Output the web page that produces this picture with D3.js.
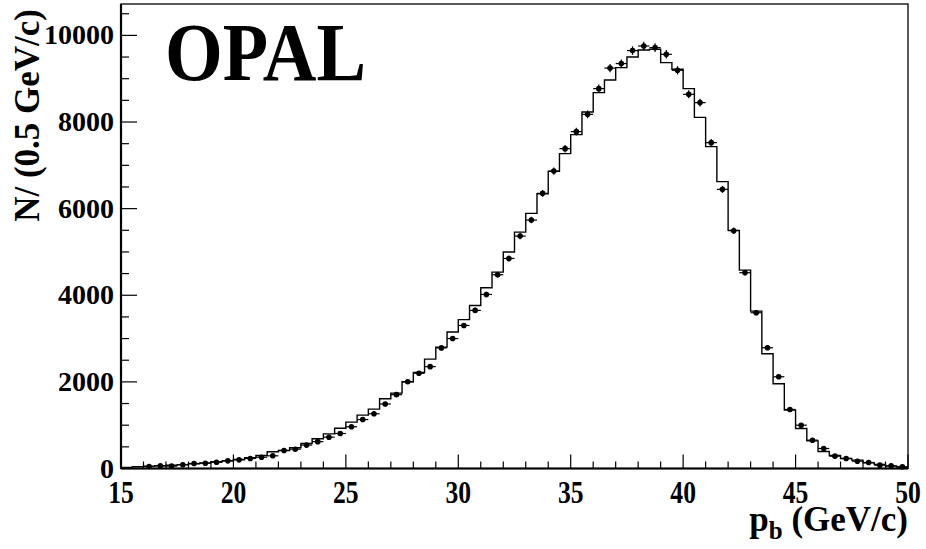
<!DOCTYPE html>
<html>
<head>
<meta charset="utf-8">
<script src="https://cdn.jsdelivr.net/npm/d3@7"></script>
<style>
  html, body { margin: 0; padding: 0; background: #fff; }
  svg { display: block; }
  text { font-family: "Liberation Serif", "DejaVu Serif", serif; font-weight: bold; fill: #000; }
</style>
</head>
<body>
<svg id="chart" width="926" height="549"></svg>
<script>
// ---- data ----
const binEdgesStart = 15;        // GeV/c
const binWidth = 0.5;            // GeV/c
// Monte Carlo histogram contents (70 bins, 15–50 GeV/c)
const mcCounts = [
  25, 40, 55, 65, 75, 90, 110, 130, 155, 180,
  208, 247, 300, 386, 416, 478, 578, 686, 800, 930,
  1070, 1232, 1370, 1610, 1740, 2003, 2218, 2526, 2803, 3153,
  3438, 3765, 4174, 4535, 5000, 5458, 5890, 6345, 6861, 7270,
  7709, 8231, 8679, 8970, 9256, 9501, 9663, 9679, 9372, 9217,
  8771, 8108, 7431, 6623, 5498, 4581, 3634, 2649, 1956, 1347,
  924, 639, 393, 300, 231, 193, 131, 92, 54, 31
];
// Data points (70 bins; first two bins empty)
const dataCounts = [
  0, 0, 45, 62, 55, 85, 115, 122, 145, 177,
  200, 231, 261, 293, 416, 446, 540, 620, 723, 808,
  963, 1130, 1264, 1490, 1705, 2003, 2200, 2352, 2785, 3000,
  3303, 3650, 4019, 4474, 4850, 5366, 5736, 6353, 6868, 7385,
  7778, 8177, 8771, 9245, 9349, 9649, 9755, 9718, 9563, 9194,
  8639, 8448, 7524, 6445, 5491, 4521, 3597, 2788, 2118, 1363,
  1000, 654, 462, 285, 231, 169, 139, 77, 62, 39
];
const xTickLabels = [15, 20, 25, 30, 35, 40, 45, 50];
const yTickLabels = [0, 2000, 4000, 6000, 8000, 10000];

// ---- layout ----
const svg = d3.select("#chart");
const mLeft = 121, mRight = 908, mTop = 4, mBottom = 468.5;
const x = d3.scaleLinear().domain([15, 50]).range([mLeft, mRight]);
const y = d3.scaleLinear().domain([0, 10725]).range([mBottom, mTop]);

// histogram step line
const stepPts = mcCounts.map((v, i) => [binEdgesStart + i * binWidth, v]);
stepPts.push([binEdgesStart + mcCounts.length * binWidth, mcCounts[mcCounts.length - 1]]);
const line = d3.line().x(d => x(d[0])).y(d => y(d[1])).curve(d3.curveStepAfter);
svg.append("path").attr("d", line(stepPts))
  .attr("fill", "none").attr("stroke", "#000").attr("stroke-width", 1.4);

// data points with error bars
const pts = dataCounts
  .map((v, i) => ({ lo: binEdgesStart + i * binWidth, hi: binEdgesStart + (i + 1) * binWidth, v }))
  .filter(d => d.v > 0);
const g = svg.append("g");
g.selectAll("line.h").data(pts).join("line").attr("class", "h")
  .attr("x1", d => x(d.lo)).attr("x2", d => x(d.hi))
  .attr("y1", d => y(d.v)).attr("y2", d => y(d.v))
  .attr("stroke", "#000").attr("stroke-width", 1.2);
g.selectAll("line.v").data(pts).join("line").attr("class", "v")
  .attr("x1", d => x((d.lo + d.hi) / 2)).attr("x2", d => x((d.lo + d.hi) / 2))
  .attr("y1", d => y(d.v + Math.sqrt(d.v))).attr("y2", d => y(Math.max(0, d.v - Math.sqrt(d.v))))
  .attr("stroke", "#000").attr("stroke-width", 1.2);
g.selectAll("circle").data(pts).join("circle")
  .attr("cx", d => x((d.lo + d.hi) / 2)).attr("cy", d => y(d.v))
  .attr("r", 2.8).attr("fill", "#000");

// frame
svg.append("rect").attr("x", mLeft).attr("y", mTop).attr("width", mRight - mLeft).attr("height", mBottom - mTop)
  .attr("fill", "none").attr("stroke", "#000").attr("stroke-width", 1.3);
svg.append("line").attr("x1", mLeft).attr("x2", mLeft).attr("y1", mTop).attr("y2", mBottom)
  .attr("stroke", "#000").attr("stroke-width", 2.2);
svg.append("line").attr("x1", mLeft).attr("x2", mRight).attr("y1", mBottom).attr("y2", mBottom)
  .attr("stroke", "#000").attr("stroke-width", 2.2);

// y ticks
const yMinor = d3.range(0, 10725, 500);
svg.append("g").selectAll("line").data(yMinor).join("line")
  .attr("x1", mLeft).attr("x2", d => mLeft + (d % 2000 === 0 ? 16 : 8))
  .attr("y1", d => y(d)).attr("y2", d => y(d))
  .attr("stroke", "#000").attr("stroke-width", 1.2);
svg.append("g").selectAll("text").data(yTickLabels).join("text")
  .attr("x", 114).attr("y", d => y(d) + 9)
  .attr("text-anchor", "end").attr("font-size", 28)
  .text(d => d);

// x ticks
const xMinor = d3.range(15, 50.01, 1);
svg.append("g").selectAll("line").data(xMinor).join("line")
  .attr("x1", d => x(d)).attr("x2", d => x(d))
  .attr("y1", mBottom).attr("y2", d => mBottom - (d % 5 === 0 ? 14 : 7))
  .attr("stroke", "#000").attr("stroke-width", 1.2);
svg.append("g").selectAll("text").data(xTickLabels).join("text")
  .attr("transform", d => `translate(${x(d)},503) scale(0.8,1)`)
  .attr("text-anchor", "middle").attr("font-size", 32)
  .text(d => d);

// axis titles
svg.append("text")
  .attr("transform", "translate(39,9) rotate(-90)")
  .attr("text-anchor", "end").attr("font-size", 35)
  .text("N/ (0.5 GeV/c)");

const xt = svg.append("text").attr("x", 908).attr("y", 531)
  .attr("text-anchor", "end").attr("font-size", 35);
xt.append("tspan").text("p");
xt.append("tspan").attr("dy", 8).attr("font-size", 25).text("b");
xt.append("tspan").attr("dy", -8).text(" (GeV/c)");

// experiment label
svg.append("text").attr("x", 165).attr("y", 80)
  .attr("font-size", 82).attr("textLength", 201).attr("lengthAdjust", "spacingAndGlyphs")
  .text("OPAL");
</script>
</body>
</html>
